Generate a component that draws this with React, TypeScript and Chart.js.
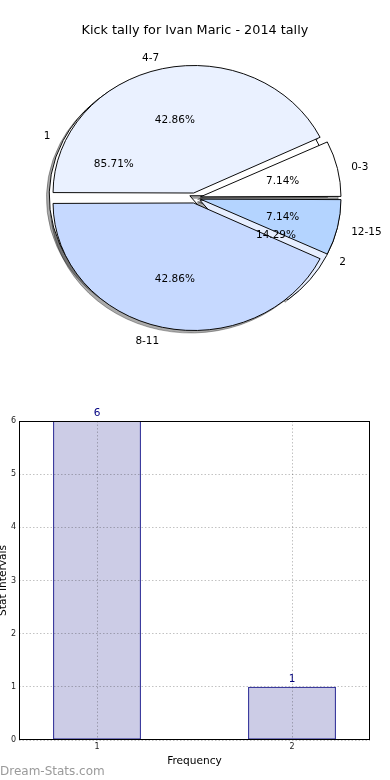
import React, { useEffect, useRef } from "react";
import { Chart, registerables } from "chart.js";

Chart.register(...registerables);

// ---------- data ----------
const chartTitle = "Kick tally for Ivan Maric - 2014 tally";
const rangeCats = ["0-3", "4-7", "8-11", "12-15"];
const rangeVals = [1, 6, 6, 1];
const rangeColors = ["#ffffff", "#eaf1ff", "#c6d9ff", "#b4d4ff"];
const freqCats = ["1", "2"];
const freqVals = [6, 1];
const freqColors = ["#ffffff", "#e6eeff"];
const xTicks = [1, 2];
const yTicks = [0, 1, 2, 3, 4, 5, 6];
const xTitle = "Frequency";
const yTitle = "Stat Intervals";
const watermark = "Dream-Stats.com";

// ---------- styling ----------
const FONT = "'DejaVu Sans', sans-serif";
const PIE_R = 140.6; // horizontal radius of the pie
const SQUASH = 0.907; // vertical / horizontal ratio (non-equal aspect)
const EXPLODE = 22.5; // chart.js offset (translation = offset / 4)
const SHADOW_DX = -2.8;
const SHADOW_DY = 2.5;
const TEXT_DY = 1.5;

function squash(ctx: CanvasRenderingContext2D, cx: number, cy: number) {
  ctx.translate(cx, cy);
  ctx.scale(1, SQUASH);
  ctx.translate(-cx, -cy);
}

const piePlugin = {
  id: "mplPie",
  afterDatasetsUpdate(chart: any) {
    chart.getSortedVisibleDatasetMetas().forEach((meta: any) => {
      meta.data.forEach((arc: any) => {
        const circ = arc.endAngle - arc.startAngle;
        const fix = 1 - Math.sin(Math.min(Math.PI, circ));
        arc.innerRadius = 0;
        arc.outerRadius = PIE_R - (EXPLODE / 4) * fix;
      });
    });
  },
  beforeDatasetsDraw(chart: any) {
    const ctx = chart.ctx as CanvasRenderingContext2D;
    const metas = chart.getSortedVisibleDatasetMetas();
    const a0 = metas[0].data[0];
    const cx = a0.x;
    const cy = a0.y;
    ctx.save();
    ctx.translate(SHADOW_DX, SHADOW_DY);
    squash(ctx, cx, cy);
    (ctx as any).filter = "brightness(0)";
    ctx.globalAlpha = 0.33;
    for (let m = metas.length - 1; m >= 0; m--) {
      metas[m].data.forEach((arc: any) => arc.draw(ctx));
    }
    ctx.restore();
    ctx.save();
    squash(ctx, cx, cy);
  },
  afterDatasetsDraw(chart: any) {
    const ctx = chart.ctx as CanvasRenderingContext2D;
    ctx.restore();
    const metas = chart.getSortedVisibleDatasetMetas();
    ctx.save();
    ctx.font = `10.5px ${FONT}`;
    ctx.fillStyle = "#000";
    ctx.textBaseline = "middle";
    metas.forEach((meta: any) => {
      const ds = chart.data.datasets[meta.index];
      const vals: number[] = ds.data;
      const total = vals.reduce((a, b) => a + b, 0);
      meta.data.forEach((arc: any, i: number) => {
        const mid = (arc.startAngle + arc.endAngle) / 2;
        const c = Math.cos(mid);
        const s = Math.sin(mid);
        const ex = arc.x + (c * EXPLODE) / 4;
        const ey = arc.y + (s * EXPLODE) / 4;
        const place = (d: number) => [
          ex + d * PIE_R * c,
          arc.y + (ey + d * PIE_R * s - arc.y) * SQUASH + TEXT_DY,
        ];
        const [lx, ly] = place(1.1);
        ctx.textAlign = c > 0 ? "left" : "right";
        ctx.fillText(ds.sliceLabels[i], lx, ly);
        const [px, py] = place(0.6);
        ctx.textAlign = "center";
        ctx.fillText(((vals[i] / total) * 100).toFixed(2) + "%", px, py);
      });
    });
    ctx.restore();
  },
};

const barPlugin = {
  id: "mplBar",
  afterDatasetsDraw(chart: any) {
    const ctx = chart.ctx as CanvasRenderingContext2D;
    const meta = chart.getDatasetMeta(0);
    ctx.save();
    ctx.font = `10.5px ${FONT}`;
    ctx.fillStyle = "#000080";
    ctx.textAlign = "center";
    ctx.textBaseline = "alphabetic";
    meta.data.forEach((bar: any, i: number) => {
      ctx.fillText(String(freqVals[i]), bar.x, bar.y - 5);
    });
    ctx.restore();
  },
  afterDraw(chart: any) {
    const ctx = chart.ctx as CanvasRenderingContext2D;
    const a = chart.chartArea;
    ctx.save();
    ctx.strokeStyle = "#000";
    ctx.lineWidth = 1;
    const l = Math.round(a.left) + 0.5;
    const t = Math.round(a.top) + 0.5;
    const r = Math.round(a.right) - 0.5;
    const b = Math.round(a.bottom) - 0.5;
    ctx.strokeRect(l, t, r - l, b - t);
    ctx.font = `12px ${FONT}`;
    ctx.fillStyle = "#9a9a9a";
    ctx.textAlign = "left";
    ctx.textBaseline = "alphabetic";
    ctx.fillText(watermark, 0, chart.height - 5.5);
    ctx.restore();
  },
};

export default function App() {
  const pieRef = useRef<HTMLCanvasElement>(null);
  const barRef = useRef<HTMLCanvasElement>(null);

  useEffect(() => {
    const rev = <T,>(a: T[]) => a.slice().reverse();
    const pie = new Chart(pieRef.current!, {
      type: "pie",
      data: {
        labels: rev(rangeCats),
        datasets: [
          {
            data: rev(rangeVals),
            backgroundColor: rev(rangeColors),
            sliceLabels: rev(rangeCats),
            order: 0,
            clip: false,
          } as any,
          {
            data: rev(freqVals),
            backgroundColor: rev(freqColors),
            sliceLabels: rev(freqCats),
            order: 1,
            clip: false,
          } as any,
        ],
      },
      options: {
        responsive: false,
        animation: false,
        devicePixelRatio: 1,
        events: [],
        rotation: 90,
        layout: { padding: { left: 60, right: 60.2, top: 0, bottom: 54 } },
        elements: {
          arc: {
            borderColor: "#000",
            borderWidth: 1,
            borderJoinStyle: "miter",
            offset: EXPLODE,
          } as any,
        },
        plugins: {
          legend: { display: false },
          tooltip: { enabled: false },
          title: {
            display: true,
            text: chartTitle,
            color: "#000",
            font: { family: FONT, size: 12.8, weight: "normal" as any },
            padding: { top: 23.3, bottom: 21.34 },
          },
        },
      },
      plugins: [piePlugin],
    });

    const gridStyle = {
      color: "rgba(0,0,0,0.24)",
      lineWidth: 1,
      drawTicks: false,
      z: 1,
    };
    const borderStyle = { display: false, dash: [1.5, 2] };
    const bar = new Chart(barRef.current!, {
      type: "bar",
      data: {
        datasets: [
          {
            data: freqCats.map((c, i) => ({ x: Number(c), y: freqVals[i] })),
            backgroundColor: "rgba(0,0,128,0.2)",
            borderColor: "#000080",
            borderWidth: 1,
            borderSkipped: false,
            barPercentage: 0.45,
            categoryPercentage: 1,
          } as any,
        ],
      },
      options: {
        responsive: false,
        animation: false,
        devicePixelRatio: 1,
        events: [],
        layout: { padding: { left: 0, right: 20, top: 31, bottom: 0 } },
        plugins: { legend: { display: false }, tooltip: { enabled: false } },
        scales: {
          x: {
            type: "linear",
            min: 0.6,
            max: 2.4,
            offset: false,
            afterBuildTicks: (s: any) => {
              s.ticks = xTicks.map((v) => ({ value: v }));
            },
            afterFit: (s: any) => {
              s.height = 40;
            },
            grid: { ...gridStyle, offset: false } as any,
            border: borderStyle as any,
            ticks: {
              font: { family: FONT, size: 8 },
              color: "#222",
              padding: 2,
              maxRotation: 0,
              autoSkip: false,
            },
            title: {
              display: true,
              text: xTitle,
              color: "#000",
              font: { family: FONT, size: 10.6 },
              padding: { top: 0, bottom: 12.6 },
            },
          },
          y: {
            type: "linear",
            min: 0,
            max: 6,
            afterBuildTicks: (s: any) => {
              s.ticks = yTicks.map((v) => ({ value: v }));
            },
            afterFit: (s: any) => {
              s.width = 19;
            },
            grid: gridStyle as any,
            border: borderStyle as any,
            ticks: {
              font: { family: FONT, size: 8 },
              color: "#222",
              padding: 3,
            },
            title: {
              display: true,
              text: yTitle,
              color: "#000",
              font: { family: FONT, size: 10.6 },
              padding: { top: -3.3, bottom: 0 },
            },
          },
        },
      },
      plugins: [barPlugin],
    });

    return () => {
      pie.destroy();
      bar.destroy();
    };
  }, []);

  return (
    <div style={{ position: "absolute", left: 0, top: 0, width: 390, height: 780, background: "#fff" }}>
      <canvas
        ref={pieRef}
        width={390}
        height={390}
        style={{ position: "absolute", left: 0, top: 0, width: 390, height: 390 }}
      />
      <canvas
        ref={barRef}
        width={390}
        height={390}
        style={{ position: "absolute", left: 0, top: 390, width: 390, height: 390 }}
      />
    </div>
  );
}
